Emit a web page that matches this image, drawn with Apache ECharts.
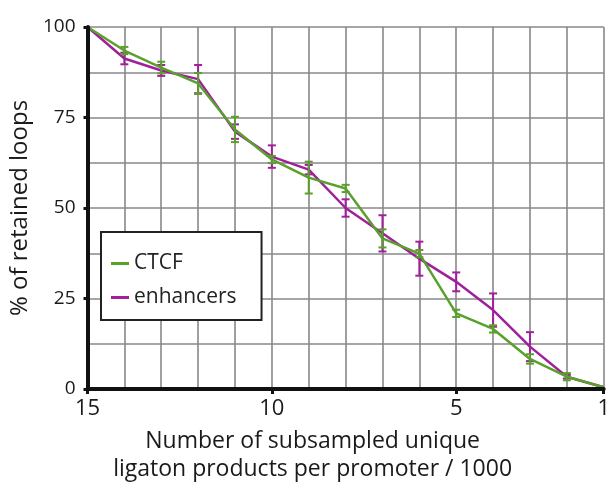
<!DOCTYPE html>
<html>
<head>
<meta charset="utf-8">
<script src="https://cdn.jsdelivr.net/npm/echarts@6/dist/echarts.min.js"></script>
<style>
  html, body { margin: 0; padding: 0; background: #fff; }
  #chart { width: 613px; height: 489px; }
</style>
</head>
<body>
<div id="chart"></div>
<script>
// subsampled unique ligation products per promoter / 1000
const xValues = [15, 14, 13, 12, 11, 10, 9, 8, 7, 6, 5, 4, 3, 2, 1];
// % of retained loops
const ctcf = [100, 93.5, 88.8, 84.4, 71.7, 63.4, 58.4, 55.4, 41.6, 37.4, 20.9, 16.6, 8.3, 3.4, 0.5];
const ctcfErr = [0, 1, 1.6, 2.9, 3.5, 1, 4.4, 1, 2.5, 1, 1, 1, 1.3, 1, 0];
const enhancers = [100, 91.3, 88.0, 85.6, 71.1, 64.2, 60.6, 50.0, 43.0, 36.0, 29.6, 21.8, 11.7, 3.4, 0.5];
const enhancersErr = [0, 1.6, 1.5, 3.9, 2, 3.1, 1.3, 2.4, 5, 4.7, 2.6, 4.6, 4, 0.5, 0];
const xTickLabels = [15, 10, 5, 1];
const yTickLabels = [0, 25, 50, 75, 100];

const green = '#5aa02c';
const purple = '#a0209c';
const font = 'Open Sans';
const gridLine = { show: true, lineStyle: { color: '#888888', width: 1.6 } };

function points (ys) {
  return xValues.map((x, i) => [x, ys[i]]);
}
function errRows (ys, errs) {
  return xValues.map((x, i) => [x, ys[i] - errs[i], ys[i] + errs[i]]).filter((r, i) => errs[i] > 0);
}
function errorBars (color) {
  return (params, api) => {
    const lo = api.coord([api.value(0), api.value(1)]);
    const hi = api.coord([api.value(0), api.value(2)]);
    const w = 4;
    const style = { stroke: color, lineWidth: 2 };
    return {
      type: 'group',
      children: [
        { type: 'line', shape: { x1: lo[0], y1: lo[1], x2: hi[0], y2: hi[1] }, style: style },
        { type: 'line', shape: { x1: lo[0] - w, y1: lo[1], x2: lo[0] + w, y2: lo[1] }, style: style },
        { type: 'line', shape: { x1: hi[0] - w, y1: hi[1], x2: hi[0] + w, y2: hi[1] }, style: style }
      ]
    };
  };
}

const myChart = echarts.init(document.getElementById('chart'));
const option = {
  animation: false,
  textStyle: { fontFamily: font },
  grid: { left: 85, right: 2, top: 27, bottom: 100 },
  legend: {
    data: ['CTCF', 'enhancers'],
    orient: 'vertical',
    left: 101,
    top: 232,
    padding: [21, 25, 12, 10],
    itemGap: 13,
    itemWidth: 18,
    itemHeight: 3,
    icon: 'rect',
    borderColor: '#222',
    borderWidth: 2,
    backgroundColor: '#fff',
    textStyle: { fontFamily: font, fontSize: 21, color: '#222', lineHeight: 21 }
  },
  xAxis: [
    {
      // labels, ticks and the thick axis line
      type: 'value',
      inverse: true,
      min: 1,
      max: 15,
      interval: 1,
      name: 'Number of subsampled unique\nligaton products per promoter / 1000',
      nameLocation: 'middle',
      nameGap: 38,
      nameTextStyle: { fontFamily: font, fontSize: 23, color: '#1a1a1a', lineHeight: 28, padding: [0, 66, 0, 0] },
      axisLine: { lineStyle: { color: '#111', width: 4 } },
      axisTick: { customValues: xTickLabels, length: 5, lineStyle: { color: '#111', width: 3 } },
      axisLabel: { customValues: xTickLabels, margin: 9, fontSize: 22, color: '#1a1a1a', fontFamily: font },
      splitLine: { show: false },
      z: 5
    },
    {
      // grid lines at every integer
      type: 'value',
      inverse: true,
      min: 1,
      max: 15,
      interval: 1,
      position: 'bottom',
      axisLine: { show: false },
      axisTick: { show: false },
      axisLabel: { show: false },
      splitLine: gridLine
    }
  ],
  yAxis: [
    {
      type: 'value',
      min: 0,
      max: 100,
      interval: 12.5,
      name: '% of retained loops',
      nameLocation: 'middle',
      nameGap: 46,
      nameTextStyle: { fontFamily: font, fontSize: 24, color: '#1a1a1a' },
      axisLine: { show: true, lineStyle: { color: '#111', width: 4 } },
      axisTick: { show: true, customValues: yTickLabels, length: 4, lineStyle: { color: '#111', width: 3 } },
      axisLabel: { customValues: yTickLabels, margin: 12, fontSize: 19, color: '#1a1a1a', fontFamily: font },
      splitLine: { show: false },
      z: 5
    },
    {
      // grid lines every 12.5
      type: 'value',
      min: 0,
      max: 100,
      interval: 12.5,
      position: 'left',
      axisLine: { show: false },
      axisTick: { show: false },
      axisLabel: { show: false },
      splitLine: gridLine
    }
  ],
  series: [
    {
      name: 'enhancers',
      type: 'line',
      data: points(enhancers),
      color: purple,
      symbol: 'none',
      lineStyle: { width: 2.5 },
      z: 3
    },
    {
      name: 'enhancers err',
      type: 'custom',
      data: errRows(enhancers, enhancersErr),
      renderItem: errorBars(purple),
      encode: { x: 0, y: [1, 2] },
      z: 3
    },
    {
      name: 'CTCF',
      type: 'line',
      data: points(ctcf),
      color: green,
      symbol: 'none',
      lineStyle: { width: 2.5 },
      z: 4
    },
    {
      name: 'CTCF err',
      type: 'custom',
      data: errRows(ctcf, ctcfErr),
      renderItem: errorBars(green),
      encode: { x: 0, y: [1, 2] },
      z: 4
    }
  ]
};
myChart.setOption(option);
</script>
</body>
</html>
